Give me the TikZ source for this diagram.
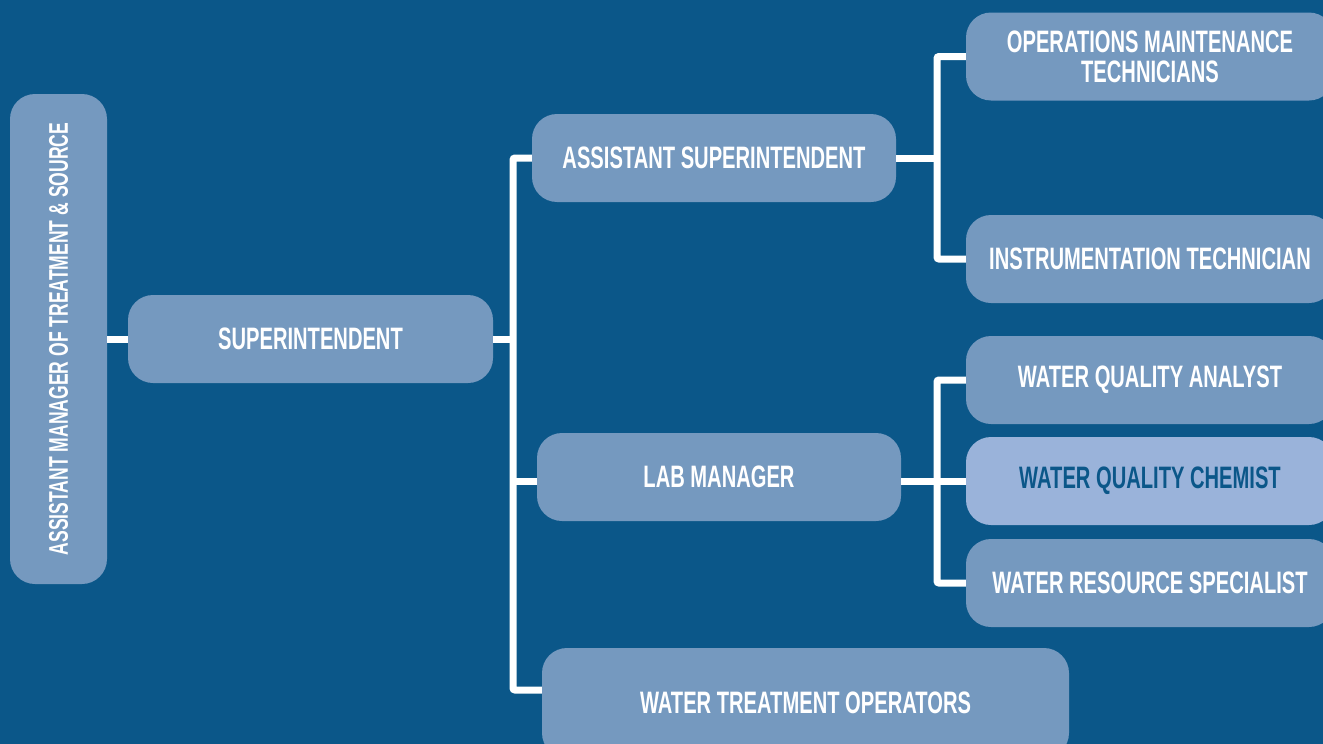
\documentclass[tikz,border=0pt]{standalone}
\usepackage{fontspec}
\setmainfont{Liberation Sans}[FakeStretch=0.65]
\usepackage{tikz}
\usetikzlibrary{positioning}

\definecolor{bgblue}{HTML}{0B5789}
\definecolor{boxblue}{HTML}{7599BF}
\definecolor{hiblue}{HTML}{9AB3DA}

\begin{document}
\begin{tikzpicture}[x=1pt,y=-1pt,
    every node/.style = {align=center, font=\bfseries\fontsize{31}{33}\selectfont},
    role/.style = {fill=boxblue, text=white, rounded corners=25pt, inner sep=0pt,
      minimum height=88pt},
    rolehi/.style = {role, fill=hiblue, text=bgblue},
    link/.style = {draw=white, line width=7pt, rounded corners=2pt}]
  \fill[bgblue] (0,0) rectangle (1323,744);
  \useasboundingbox (0,0) rectangle (1323,744);
  \clip (0,0) rectangle (1323,744);

  % top of the tree
  \node[role, rotate=90, minimum width=490pt, minimum height=97pt] (amts) at (58.5,339)
    {\fontsize{27}{29}\selectfont ASSISTANT MANAGER OF TREATMENT \& SOURCE};
  \node[role, minimum width=365pt] (sup) at (310.5,339) {SUPERINTENDENT};

  % second level
  \node[role, minimum width=364pt] (asup) at (714,158) {ASSISTANT SUPERINTENDENT};
  \node[role, minimum width=364pt] (lab) at (719,477) {LAB MANAGER};
  \node[role, minimum width=527pt, minimum height=110pt] (wto) at (805.5,703) {WATER TREATMENT OPERATORS};

  % third level
  \node[role, minimum width=368pt] (omt) at (1150,56.5) {OPERATIONS MAINTENANCE\\[-3pt]TECHNICIANS};
  \node[role, minimum width=368pt] (instr) at (1150,259) {INSTRUMENTATION TECHNICIAN};
  \node[role, minimum width=368pt] (wqa) at (1150,380) {WATER QUALITY ANALYST};
  \node[rolehi, minimum width=368pt] (wqc) at (1150,481) {WATER QUALITY CHEMIST};
  \node[role, minimum width=368pt] (wrs) at (1150,583) {WATER RESOURCE SPECIALIST};

  % connectors
  \coordinate (j1) at (513,339);
  \coordinate (j2) at (937,158);
  \coordinate (j3) at (937,481);
  \draw[link] (amts.south) -- (sup.west);
  \draw[link] (sup.east) -- (j1);
  \draw[link] (asup.west) -| (j1) |- ([yshift=13pt]wto.west);
  \draw[link] ([yshift=-4pt]lab.west) -- ([yshift=-4pt]lab.west -| j1);
  \draw[link] (asup.east) -- (j2);
  \draw[link] (omt.west) -| (j2) |- (instr.west);
  \draw[link] ([yshift=-4pt]lab.east) -- (j3);
  \draw[link] (wqa.west) -| (j3) |- (wrs.west);
  \draw[link] (wqc.west) -- (j3);
\end{tikzpicture}
\end{document}
